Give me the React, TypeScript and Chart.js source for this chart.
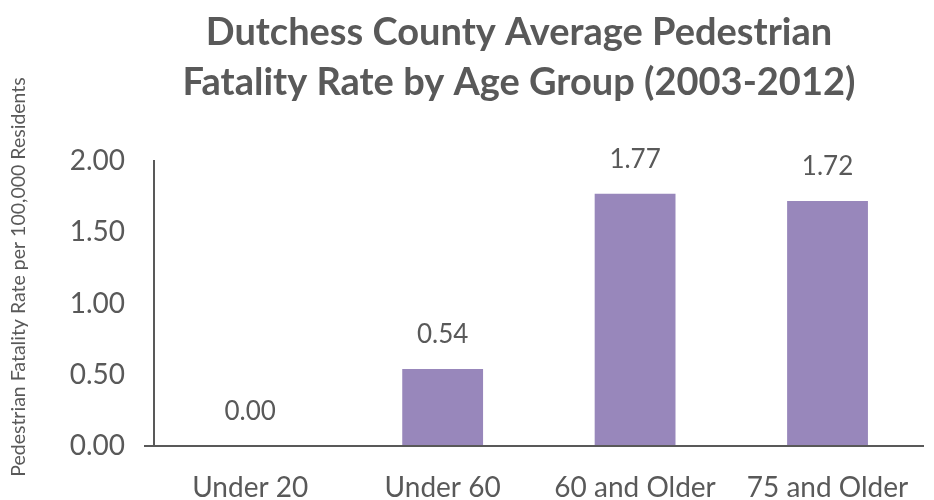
import React, { useEffect, useRef } from "react";
import { Chart, registerables } from "chart.js";

Chart.register(...registerables);

const categories = ["Under 20", "Under 60", "60 and Older", "75 and Older"];
const rates = [0.0, 0.54, 1.77, 1.72];
const titleLines = ["Dutchess County Average Pedestrian", "Fatality Rate by Age Group (2003-2012)"];
const yAxisTitle = "Pedestrian Fatality Rate per 100,000 Residents";

const FONT = "Lato, 'Open Sans', sans-serif";
const TEXT = "#595959";
const BAR = "#9887bb";

const titlePlugin = {
  id: "customTitle",
  afterDraw(chart: any) {
    const ctx = chart.ctx;
    ctx.save();
    ctx.fillStyle = TEXT;
    ctx.font = `bold 38px ${FONT}`;
    ctx.textAlign = "center";
    ctx.textBaseline = "middle";
    const cx = 519;
    titleLines.forEach((l, i) => ctx.fillText(l, cx, 33 + i * 50));
    // rotated y-axis title
    ctx.font = `19.5px ${FONT}`;
    ctx.translate(19, 277);
    ctx.rotate(-Math.PI / 2);
    ctx.fillText(yAxisTitle, 0, 0);
    ctx.restore();
  },
};

const labelPlugin = {
  id: "valueLabels",
  afterDatasetsDraw(chart: any) {
    const ctx = chart.ctx;
    const meta = chart.getDatasetMeta(0);
    ctx.save();
    ctx.fillStyle = TEXT;
    ctx.font = `26px ${FONT}`;
    ctx.textAlign = "center";
    ctx.textBaseline = "middle";
    meta.data.forEach((el: any, i: number) => {
      ctx.fillText(rates[i].toFixed(2), el.x, el.y - 34);
    });
    ctx.restore();
  },
};

export default function App() {
  const ref = useRef<HTMLCanvasElement>(null);
  useEffect(() => {
    const chart = new Chart(ref.current!, {
      type: "bar",
      data: {
        labels: categories,
        datasets: [
          {
            data: rates,
            backgroundColor: BAR,
            barPercentage: 0.42,
            categoryPercentage: 1,
          },
        ],
      },
      options: {
        animation: false,
        responsive: true,
        maintainAspectRatio: false,
        layout: { padding: { top: 161, right: 6, left: 0, bottom: 0 } },
        plugins: { legend: { display: false }, title: { display: false }, tooltip: { enabled: false } },
        scales: {
          x: {
            grid: { display: false, drawTicks: false },
            border: { color: TEXT, width: 2 },
            ticks: { color: TEXT, font: { family: FONT, size: 28 }, padding: 25 },
            afterFit(s: any) {
              s.height = 54;
            },
          },
          y: {
            min: 0,
            max: 2,
            ticks: {
              stepSize: 0.5,
              color: TEXT,
              font: { family: FONT, size: 28 },
              padding: 19,
              callback: (v: any) => Number(v).toFixed(2),
            },
            grid: {
              drawOnChartArea: false,
              drawTicks: true,
              tickLength: 10,
              lineWidth: 2,
              color: (c: any) => (c.index === 0 ? TEXT : "rgba(0,0,0,0)"),
            },
            border: { color: TEXT, width: 2 },
            afterFit(s: any) {
              s.width = 154;
            },
          },
        },
      },
      plugins: [titlePlugin, labelPlugin],
    });
    return () => chart.destroy();
  }, []);
  return (
    <div style={{ position: "fixed", left: 0, top: 0, width: 934, height: 500, background: "#fff" }}>
      <canvas ref={ref} />
    </div>
  );
}
